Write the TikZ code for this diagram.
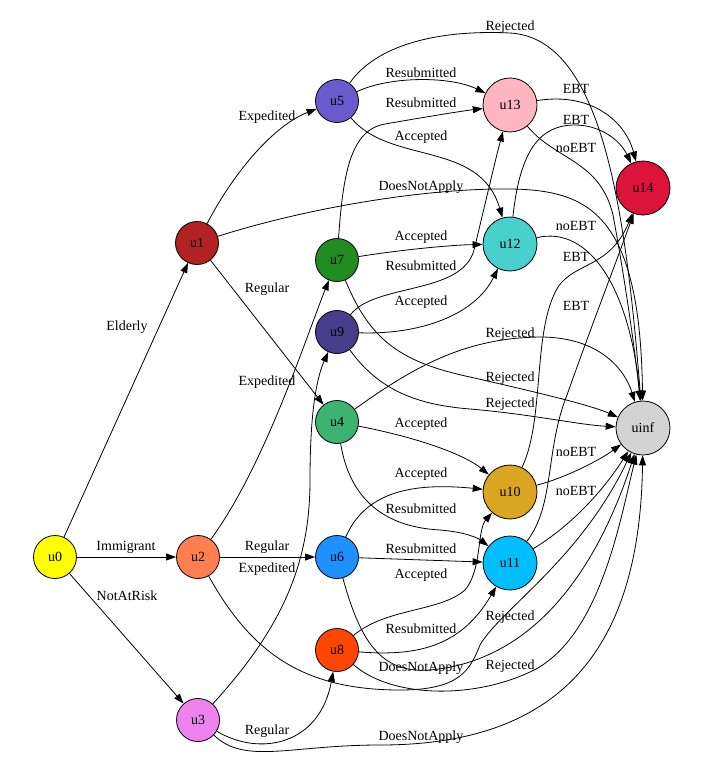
\documentclass[tikz,border=0pt]{standalone}
\usepackage{fontspec}
\setmainfont{Liberation Serif}
\usetikzlibrary{arrows.meta}
\definecolor{cu0}{HTML}{FFFF00}
\definecolor{cu1}{HTML}{B22222}
\definecolor{cu2}{HTML}{FF7F50}
\definecolor{cu3}{HTML}{EE82EE}
\definecolor{cu4}{HTML}{3CB371}
\definecolor{cu5}{HTML}{6A5ACD}
\definecolor{cu6}{HTML}{1E90FF}
\definecolor{cu7}{HTML}{228B22}
\definecolor{cu8}{HTML}{FF4500}
\definecolor{cu9}{HTML}{483D8B}
\definecolor{cu10}{HTML}{DAA520}
\definecolor{cu11}{HTML}{00BFFF}
\definecolor{cu12}{HTML}{48D1CC}
\definecolor{cu13}{HTML}{FFB6C1}
\definecolor{cu14}{HTML}{DC143C}
\definecolor{cuinf}{HTML}{D3D3D3}
\tikzset{
  st/.style={circle, draw=black, line width=0.8pt, minimum size=43pt, inner sep=0pt, font=\fontsize{14}{16}\selectfont},
  big/.style={st, minimum size=54pt},
  edge/.style={draw=black, line width=0.8pt, -{Triangle[length=10pt,width=7pt]}},
  lab/.style={inner sep=0pt, font=\fontsize{14}{16}\selectfont},
}
\begin{document}
\begin{tikzpicture}[x=1pt,y=-1pt]
\useasboundingbox (0,0) rectangle (703,773);
% nodes
\node[st,fill=cu0] (u0) at (55,557) {u0};
\node[st,fill=cu1] (u1) at (197,243) {u1};
\node[st,fill=cu2] (u2) at (198,557) {u2};
\node[st,fill=cu3] (u3) at (198,720) {u3};
\node[st,fill=cu5] (u5) at (337,101) {u5};
\node[st,fill=cu7] (u7) at (337,260) {u7};
\node[st,fill=cu9] (u9) at (337,332) {u9};
\node[st,fill=cu4] (u4) at (337,422) {u4};
\node[st,fill=cu6] (u6) at (337,557) {u6};
\node[st,fill=cu8] (u8) at (337,650) {u8};
\node[big,fill=cu13] (u13) at (510,105) {u13};
\node[big,fill=cu12] (u12) at (510,244) {u12};
\node[big,fill=cu10] (u10) at (510,492) {u10};
\node[big,fill=cu11] (u11) at (510,563) {u11};
\node[big,fill=cu14] (u14) at (643,188) {u14};
\node[big,fill=cuinf] (uinf) at (643,428) {uinf};
% edges
\draw[edge] (u0) -- (u1);
\draw[edge] (u0) -- (u2);
\draw[edge] (u0) -- (u3);
\draw[edge] (u1) .. controls (235,170) and (275,125) .. (u5);
\draw[edge] (u1) -- (u4);
\draw[edge] (u1) .. controls (300,210) and (420,188) .. (510,189) .. controls (590,190) and (640,215) .. (uinf);
\draw[edge] (u2) .. controls (265,465) and (305,340) .. (u7);
\draw[edge] (u2) -- (u6);
\draw[edge] (u2) .. controls (250,650) and (300,690) .. (400,690) .. controls (460,690) and (470,670) .. (480,645) .. controls (500,610) and (580,560) .. (uinf);
\draw[edge] (u3) .. controls (285,625) and (310,560) .. (310,480) .. controls (310,405) and (318,375) .. (u9);
\draw[edge] (u3) .. controls (260,757) and (320,745) .. (u8);
\draw[edge] (u3) .. controls (245,765) and (290,745) .. (380,745) .. controls (560,745) and (640,650) .. (uinf);
\draw[edge] (u5) .. controls (390,76) and (450,76) .. (u13);
\draw[edge] (u5) .. controls (390,165) and (480,140) .. (u12);
\draw[edge] (u5) .. controls (380,40) and (450,30) .. (510,33) .. controls (600,38) and (625,200) .. (uinf);
\draw[edge] (u7) .. controls (343,175) and (350,130) .. (385,124) .. controls (420,118) and (455,112) .. (u13);
\draw[edge] (u7) .. controls (400,250) and (450,245) .. (u12);
\draw[edge] (u7) .. controls (370,340) and (400,362) .. (470,377) .. controls (540,393) and (590,405) .. (uinf);
\draw[edge] (u9) .. controls (375,283) and (462,295) .. (474,250) .. controls (485,205) and (494,165) .. (u13);
\draw[edge] (u9) .. controls (420,335) and (475,315) .. (u12);
\draw[edge] (u9) .. controls (380,392) and (420,405) .. (470,409) .. controls (530,414) and (580,425) .. (uinf);
\draw[edge] (u4) .. controls (420,438) and (465,455) .. (u10);
\draw[edge] (u4) .. controls (350,500) and (385,527) .. (440,530) .. controls (465,532) and (478,538) .. (u11);
\draw[edge] (u4) .. controls (420,362) and (470,338) .. (540,337) .. controls (600,337) and (625,370) .. (uinf);
\draw[edge] (u6) .. controls (365,493) and (410,482) .. (u10);
\draw[edge] (u6) -- (u11);
\draw[edge] (u6) .. controls (360,640) and (380,674) .. (430,670) .. controls (540,660) and (600,560) .. (uinf);
\draw[edge] (u8) .. controls (385,608) and (440,612) .. (465,590) .. controls (482,570) and (477,530) .. (u10);
\draw[edge] (u8) .. controls (420,657) and (462,645) .. (u11);
\draw[edge] (u8) .. controls (390,697) and (470,700) .. (530,672) .. controls (600,640) and (620,520) .. (uinf);
\draw[edge] (u10) .. controls (545,420) and (532,330) .. (558,287) .. controls (575,262) and (610,268) .. (u14);
\draw[edge] (u10) .. controls (565,478) and (600,460) .. (uinf);
\draw[edge] (u11) .. controls (555,505) and (545,450) .. (567,395) .. controls (590,330) and (615,265) .. (u14);
\draw[edge] (u11) .. controls (580,520) and (610,480) .. (uinf);
\draw[edge] (u12) .. controls (520,150) and (540,125) .. (575,125) .. controls (600,125) and (620,140) .. (u14);
\draw[edge] (u12) .. controls (590,225) and (630,290) .. (uinf);
\draw[edge] (u13) .. controls (590,92) and (625,120) .. (u14);
\draw[edge] (u13) .. controls (555,160) and (600,160) .. (613,215) .. controls (625,280) and (635,350) .. (uinf);
% labels
\node[lab] (l1) at (127,327) {Elderly};
\node[lab] (l2) at (126,547) {Immigrant};
\node[lab] (l3) at (127,596) {NotAtRisk};
\node[lab] (l4) at (267,117) {Expedited};
\node[lab] (l5) at (267,289) {Regular};
\node[lab] (l6) at (421,187) {DoesNotApply};
\node[lab] (l7) at (267,382) {Expedited};
\node[lab] (l8) at (267,547) {Regular};
\node[lab] (l9) at (267,569) {Expedited};
\node[lab] (l10) at (267,731) {Regular};
\node[lab] (l11) at (421,668) {DoesNotApply};
\node[lab] (l12) at (421,737) {DoesNotApply};
\node[lab] (l13) at (421,73) {Resubmitted};
\node[lab] (l14) at (421,103) {Resubmitted};
\node[lab] (l15) at (421,137) {Accepted};
\node[lab] (l16) at (421,237) {Accepted};
\node[lab] (l17) at (421,266) {Resubmitted};
\node[lab] (l18) at (421,302) {Accepted};
\node[lab] (l19) at (421,424) {Accepted};
\node[lab] (l20) at (421,474) {Accepted};
\node[lab] (l21) at (421,509) {Resubmitted};
\node[lab] (l22) at (421,549) {Resubmitted};
\node[lab] (l23) at (421,575) {Accepted};
\node[lab] (l24) at (421,629) {Resubmitted};
\node[lab] (l25) at (510,27) {Rejected};
\node[lab] (l26) at (510,334) {Rejected};
\node[lab] (l27) at (510,378) {Rejected};
\node[lab] (l28) at (510,404) {Rejected};
\node[lab] (l29) at (510,617) {Rejected};
\node[lab] (l30) at (510,666) {Rejected};
\node[lab] (l31) at (576,89) {EBT};
\node[lab] (l32) at (576,120) {EBT};
\node[lab] (l33) at (576,257) {EBT};
\node[lab] (l34) at (576,306) {EBT};
\node[lab] (l35) at (576,148) {noEBT};
\node[lab] (l36) at (576,226) {noEBT};
\node[lab] (l37) at (576,452) {noEBT};
\node[lab] (l38) at (576,491) {noEBT};
\end{tikzpicture}
\end{document}
